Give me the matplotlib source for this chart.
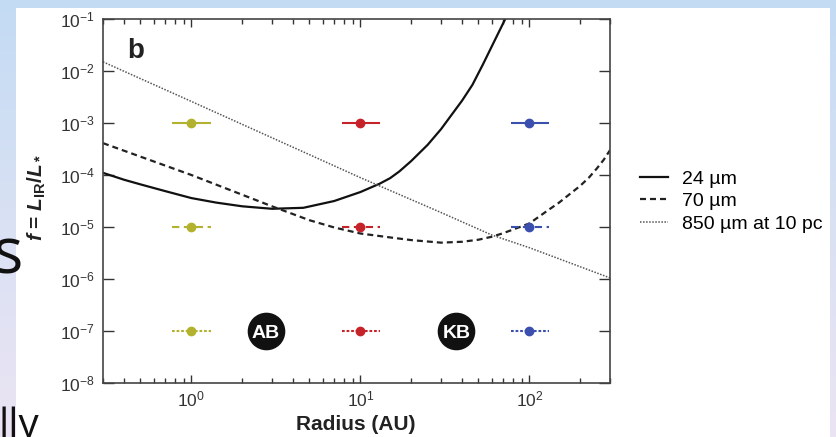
import matplotlib
matplotlib.use('Agg')
import matplotlib.pyplot as plt
import numpy as np
from matplotlib.patches import Rectangle
from matplotlib.colors import LinearSegmentedColormap
from matplotlib.ticker import NullLocator

plt.rcParams['font.family'] = ['Liberation Sans', 'DejaVu Sans']
plt.rcParams['mathtext.fontset'] = 'custom'
plt.rcParams['mathtext.rm'] = 'Liberation Sans:bold'
plt.rcParams['mathtext.it'] = 'Liberation Sans:italic:bold'
plt.rcParams['mathtext.bf'] = 'Liberation Sans:bold'

# detection limit curves (radius in AU, fractional luminosity)
r_24 = [0.3, 0.4, 0.5, 0.7, 1, 1.4, 2, 3, 4.6, 7, 10, 13, 15, 17, 20, 25,
        30, 34, 40, 46, 53, 60, 72]
f_24 = [1.10e-4, 8.1e-5, 6.6e-5, 4.9e-5, 3.6e-5, 2.95e-5, 2.5e-5, 2.24e-5,
        2.34e-5, 3.16e-5, 4.7e-5, 6.8e-5, 8.7e-5, 1.17e-4, 1.86e-4, 3.8e-4,
        7.6e-4, 1.32e-3, 2.7e-3, 5.4e-3, 1.32e-2, 3.0e-2, 1.0e-1]

r_70 = [0.3, 1, 3, 5, 7, 10, 15, 20, 30, 40, 50, 60, 70, 100, 130, 150,
        175, 200, 225, 250, 275, 300]
f_70 = [4.1e-4, 1.0e-4, 2.5e-5, 1.35e-5, 9.8e-6, 7.5e-6, 6.3e-6, 5.6e-6,
        5.0e-6, 5.2e-6, 5.7e-6, 6.5e-6, 7.6e-6, 1.17e-5, 2.14e-5, 2.95e-5,
        4.4e-5, 6.2e-5, 8.9e-5, 1.32e-4, 1.95e-4, 3.0e-4]

r_850 = [0.3, 1, 10, 30, 60, 100, 300]
f_850 = [1.5e-2, 2.6e-3, 8.9e-5, 1.9e-5, 7.0e-6, 4.0e-6, 1.05e-6]

curve_labels = ['24 µm', '70 µm', '850 µm at 10 pc']

# example discs
disc_r = [1, 10, 100]
disc_xlo = [0.23, 2.2, 22]
disc_xhi = [0.3, 3, 30]
disc_colors = ['#b2b22e', '#c62229', '#3a4fae']
disc_f = [1e-3, 1e-5, 1e-7]

# belts
belt_names = ['AB', 'KB']
belt_r = [2.75, 37]
belt_f = [1e-7, 1e-7]

fig = plt.figure(figsize=(8.37, 4.37), dpi=100)

# slide background
bg = fig.add_axes([0, 0, 1, 1])
bg.axis('off')
grad = np.linspace(0, 1, 256).reshape(-1, 1)
cmap = LinearSegmentedColormap.from_list('bg', ['#c3dbf3', '#d9e1f4', '#ebe4f3'])
bg.imshow(grad, aspect='auto', cmap=cmap, extent=[0, 1, 0, 1], origin='upper')
bg.add_patch(Rectangle((16 / 837, 0), (830 - 16) / 837, 429 / 437,
                       facecolor='white', edgecolor='none'))
bg.set_xlim(0, 1)
bg.set_ylim(0, 1)

ax = fig.add_axes([103 / 837, 1 - 383 / 437, 507 / 837, 364 / 437])
ax.set_xscale('log')
ax.set_yscale('log')

l24, = ax.plot(r_24, f_24, color='#111111', lw=1.6, label=curve_labels[0])
l70, = ax.plot(r_70, f_70, color='#222222', lw=1.6, ls=(0, (2.7, 1.8)),
               label=curve_labels[1])
l850, = ax.plot(r_850, f_850, color='#555555', lw=1.1, ls=(0, (1, 1)),
                label=curve_labels[2])

styles = ['-', (0, (3.5, 2.2)), (0, (1.3, 0.9))]
for i, lvl in enumerate(disc_f):
    for j in range(len(disc_r)):
        eb = ax.errorbar(disc_r[j], lvl, xerr=[[disc_xlo[j]], [disc_xhi[j]]],
                         fmt='o', color=disc_colors[j], ms=6, elinewidth=1.5,
                         capsize=0, zorder=4)
        eb[2][0].set_linestyle(styles[i])

ax.scatter(belt_r, belt_f, s=680, color='#111111', zorder=5)
for name, r, f in zip(belt_names, belt_r, belt_f):
    ax.text(r, f, name, color='white', fontsize=14, fontweight='bold',
            ha='center', va='center_baseline', zorder=6)

ax.text(0.047, 0.893, 'b', transform=ax.transAxes, fontsize=20,
        fontweight='bold', color='#222222', va='baseline')

ax.set_xlim(0.3, 300)
ax.set_ylim(1e-8, 1e-1)
ax.set_yticks([10.0 ** k for k in range(-8, 0)])
ax.yaxis.set_minor_locator(NullLocator())

ax.tick_params(which='both', direction='in', top=True, right=True,
               labelsize=12.5, labelcolor='#333333', color='#333333', width=1)
ax.tick_params(axis='y', which='major', length=8, pad=6)
ax.tick_params(axis='x', which='major', length=6, pad=5)
ax.tick_params(axis='x', which='minor', length=3.5)
for s in ax.spines.values():
    s.set_color('#444444')
    s.set_linewidth(1.2)

fig.text(356 / 837, 1 - 430 / 437, 'Radius (AU)', fontsize=15,
         fontweight='bold', color='#222222', ha='center', va='baseline')
fig.text(37 / 837, 1 - 197 / 437, r'$f$ = $L_{\rm IR}$/$L_*$', rotation=90,
         fontsize=15, fontweight='bold', color='#222222',
         ha='center', va='center')

ax.legend(handles=[l24, l70, l850], loc='upper left',
          bbox_to_anchor=(640 / 837, 1 - 170 / 437),
          bbox_transform=fig.transFigure, frameon=False, fontsize=14,
          handlelength=1.44, handletextpad=0.7, labelspacing=0.25,
          borderpad=0, borderaxespad=0)

# stray slide text around the figure
fig.text(23 / 837, 1 - 273 / 437, 's', fontsize=46, family='Open Sans',
         color='#111111', ha='right', va='baseline')
fig.text(-1 / 837, 0, 'lly', fontsize=29, family='Open Sans',
         color='#111111', ha='left', va='baseline')

fig.savefig('out.png', dpi=100)
